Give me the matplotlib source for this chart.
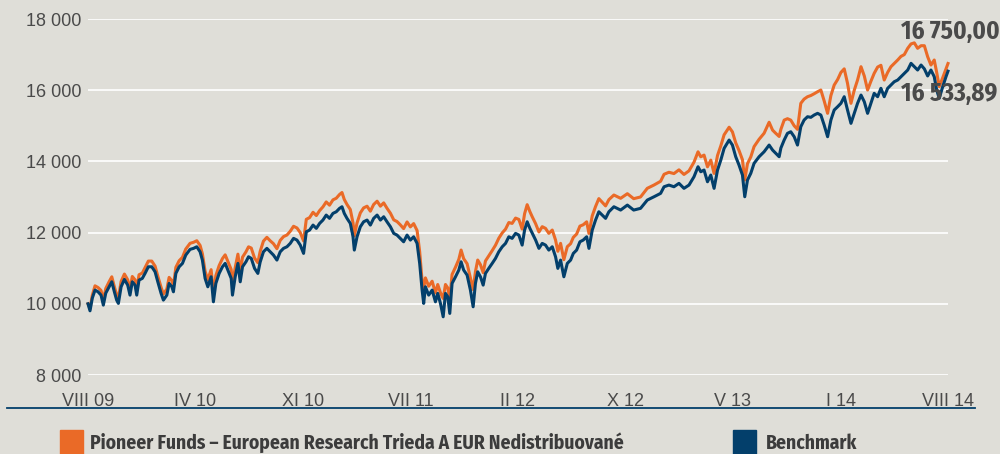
import matplotlib
matplotlib.use('Agg')
import matplotlib.pyplot as plt
from matplotlib.lines import Line2D
from matplotlib.patches import Rectangle

plt.rcParams['font.family'] = ['Liberation Sans', 'DejaVu Sans']
BOLD_FONT = ['Fira Sans Condensed', 'Liberation Sans', 'DejaVu Sans']

# months since VIII 09
months = [
    0, 0.14, 0.30, 0.49, 0.70, 0.91, 1.07, 1.24, 1.47, 1.66, 1.84, 2.00, 2.12, 2.31, 2.54,
    2.77, 2.93, 3.09, 3.28, 3.40, 3.56, 3.79, 3.98, 4.21, 4.45, 4.68, 4.87, 5.10, 5.26,
    5.50, 5.66, 5.85, 5.96, 6.13, 6.36, 6.59, 6.82, 7.12, 7.36, 7.59, 7.82, 7.98, 8.17,
    8.36, 8.59, 8.75, 8.92, 9.15, 9.38, 9.57, 9.76, 9.99, 10.08, 10.27, 10.46, 10.62,
    10.78, 11.02, 11.20, 11.39, 11.62, 11.85, 12.01, 12.24, 12.48, 12.71, 12.94, 13.18,
    13.41, 13.64, 13.88, 14.11, 14.34, 14.58, 14.81, 15.04, 15.23, 15.46, 15.70, 15.93,
    16.16, 16.39, 16.62, 16.85, 17.09, 17.32, 17.55, 17.72, 17.88, 18.07, 18.30, 18.49,
    18.58, 18.77, 19.00, 19.23, 19.47, 19.70, 19.93, 20.17, 20.40, 20.63, 20.86, 21.10,
    21.33, 21.56, 21.79, 22.02, 22.26, 22.49, 22.72, 22.96, 23.14, 23.31, 23.42, 23.54,
    23.77, 24.01, 24.24, 24.40, 24.59, 24.78, 24.94, 25.10, 25.24, 25.40, 25.64, 25.87,
    26.03, 26.21, 26.45, 26.68, 26.87, 27.03, 27.19, 27.38, 27.57, 27.73, 27.96, 28.20,
    28.43, 28.66, 28.90, 29.13, 29.36, 29.59, 29.83, 30.06, 30.29, 30.46, 30.64, 30.83,
    31.00, 31.23, 31.46, 31.69, 31.92, 32.15, 32.39, 32.62, 32.78, 32.97, 33.20, 33.44,
    33.67, 33.86, 34.09, 34.32, 34.55, 34.79, 34.95, 35.18, 35.41, 35.64, 35.88, 36.11,
    36.34, 36.69, 37.16, 37.63, 38.07, 38.55, 39.02, 39.49, 39.95, 40.19, 40.53, 40.88,
    41.23, 41.58, 41.93, 42.28, 42.56, 42.75, 42.98, 43.22, 43.45, 43.68, 43.92, 44.15,
    44.38, 44.73, 44.96, 45.19, 45.42, 45.66, 45.82, 46.01, 46.24, 46.47, 46.82, 47.17,
    47.52, 47.76, 47.99, 48.22, 48.34, 48.57, 48.80, 49.03, 49.27, 49.50, 49.73, 49.96,
    50.20, 50.43, 50.66, 50.90, 51.13, 51.36, 51.60, 51.83, 52.06, 52.30, 52.53, 52.76,
    52.99, 53.23, 53.46, 53.69, 53.93, 54.16, 54.39, 54.62, 54.85, 55.09, 55.32, 55.55,
    55.79, 56.02, 56.25, 56.49, 56.72, 56.95, 57.19, 57.42, 57.65, 57.88, 58.12, 58.35,
    58.58, 58.81, 59.04, 59.21, 59.39, 59.63, 59.86, 60.00,
]

benchmark = [
    10000, 9803, 10160, 10385, 10337, 10244, 9963, 10301, 10478, 10618, 10337, 10104, 10011, 10478, 10686,
    10525, 10244, 10618, 10525, 10244, 10666, 10714, 10854, 11040, 11040, 10899, 10618, 10292, 10104,
    10244, 10573, 10478, 10337, 10854, 11040, 11135, 11368, 11529, 11557, 11602, 11461, 11228, 10714,
    10478, 10759, 10056, 10573, 10854, 11040, 11135, 10947, 10714, 10244, 10759, 11135, 10618,
    11040, 11180, 11321, 11276, 10995, 10854, 11170, 11461, 11557, 11461, 11368, 11228,
    11461, 11557, 11602, 11697, 11838, 11790, 11649, 11416, 12023, 12071, 12211, 12119,
    12259, 12352, 12492, 12400, 12540, 12585, 12681, 12726, 12540, 12400, 12259, 11883,
    11509, 11883, 12164, 12304, 12352, 12211, 12400, 12492, 12352, 12445, 12304, 12164,
    11978, 11930, 11838, 11742, 11930, 11790, 11883, 11697, 11135, 10385, 10011, 10478,
    10244, 10385, 10056, 10292, 10011, 9635, 10292, 10197, 9730, 10573, 10759, 10947,
    11180, 10947, 10806, 10385, 9916, 10573, 10899, 10759, 10525, 10854, 10995, 11135,
    11276, 11461, 11602, 11697, 11883, 11838, 11978, 11930, 11649, 12071, 12304, 12119,
    11978, 11790, 11557, 11697, 11649, 11509, 11602, 11321, 10995, 11228, 10759, 11135,
    11228, 11416, 11509, 11742, 11790, 11883, 11557, 12071, 12352, 12585, 12492, 12400,
    12585, 12726, 12633, 12773, 12633, 12681, 12914, 13007, 13102, 13288, 13335, 13288,
    13383, 13243, 13335, 13569, 13850, 13709, 13757, 13428, 13616, 13243, 13757, 14038,
    14367, 14600, 14459, 14131, 13897, 13616, 13007, 13476, 13664, 13945, 14131, 14271,
    14459, 14319, 14226, 14131, 14375, 14600, 14788, 14833, 14693, 14459, 14974, 15162,
    15255, 15238, 15302, 15350, 15302, 15021, 14693, 15162, 15443, 15536, 15631, 15817,
    15443, 15069, 15350, 15631, 15864, 15676, 15350, 15631, 15912, 15817, 16053, 15817,
    16053, 16145, 16238, 16286, 16379, 16474, 16567, 16755, 16660, 16567, 16707, 16600,
    16400, 16567, 16379, 16005, 15772, 16098, 16379, 16534,
]

fund = [
    10000, 9863, 10240, 10505, 10457, 10374, 10103, 10431, 10618, 10758, 10477, 10254, 10161, 10628, 10836,
    10675, 10394, 10768, 10675, 10404, 10816, 10864, 11014, 11200, 11200, 11059, 10778, 10462, 10274,
    10414, 10743, 10648, 10507, 11024, 11210, 11305, 11538, 11699, 11727, 11772, 11641, 11408, 10914,
    10678, 10959, 10306, 10793, 11074, 11270, 11375, 11187, 10964, 10524, 11019, 11395, 10898,
    11310, 11460, 11601, 11566, 11285, 11154, 11470, 11761, 11867, 11771, 11688, 11548,
    11781, 11887, 11932, 12037, 12178, 12130, 11999, 11766, 12373, 12421, 12571, 12479,
    12619, 12722, 12862, 12770, 12920, 12965, 13071, 13126, 12930, 12790, 12649, 12273,
    11909, 12273, 12554, 12694, 12742, 12601, 12790, 12882, 12742, 12835, 12684, 12544,
    12358, 12310, 12218, 12112, 12300, 12160, 12253, 12057, 11465, 10635, 10450, 10728,
    10494, 10635, 10306, 10542, 10311, 10150, 10542, 10447, 10130, 10823, 11029, 11247,
    11510, 11267, 11126, 10725, 10400, 10903, 11229, 11099, 10875, 11204, 11345, 11495,
    11646, 11841, 11992, 12097, 12283, 12258, 12408, 12370, 12099, 12531, 12784, 12589,
    12438, 12250, 12017, 12167, 12119, 11979, 12072, 11791, 11475, 11698, 11239, 11605,
    11688, 11866, 11959, 12182, 12220, 12303, 11977, 12471, 12732, 12955, 12852, 12750,
    12925, 13056, 12963, 13093, 12953, 13001, 13244, 13337, 13442, 13638, 13695, 13658,
    13763, 13633, 13735, 13979, 14270, 14129, 14177, 13848, 14036, 13663, 14167, 14438,
    14747, 14960, 14829, 14521, 14307, 14046, 13477, 13936, 14124, 14415, 14621, 14791,
    15100, 14879, 14786, 14700, 14900, 15160, 15200, 15160, 15000, 14900, 15631, 15750,
    15817, 15850, 15900, 15957, 16005, 15700, 15350, 15850, 16145, 16300, 16500, 16600,
    16193, 15631, 16000, 16286, 16660, 16400, 16005, 16250, 16474, 16650, 16700, 16286,
    16500, 16660, 16750, 16848, 16950, 17000, 17177, 17300, 17330, 17177, 17250, 17250,
    16941, 16707, 16848, 16500, 16100, 16350, 16600, 16750,
]

tick_pos = [0, 7.5, 15, 22.5, 30, 37.5, 45, 52.5, 60]
tick_labels = ['VIII 09', 'IV 10', 'XI 10', 'VII 11', 'II 12', 'X 12', 'V 13', 'I 14', 'VIII 14']
y_ticks = [8000, 10000, 12000, 14000, 16000, 18000]
end_labels = ['16 750,00', '16 533,89']
series_names = ['Pioneer Funds – European Research Trieda A EUR Nedistribuované', 'Benchmark']

BG = '#dfded8'
ORANGE = '#ea6a27'
BLUE = '#033f6b'
TXT = '#4a4a4a'

fig = plt.figure(figsize=(10, 4.54), dpi=100, facecolor=BG)
ax = fig.add_axes([0.088, 1 - 375 / 454, 0.86, 356 / 454])
ax.set_facecolor(BG)

ax.plot(months, fund, color=ORANGE, lw=2.2, zorder=3, clip_on=False)
ax.plot(months, benchmark, color=BLUE, lw=2.2, zorder=4, clip_on=False)

ax.set_xlim(0, 60)
ax.set_ylim(8000, 18000)
ax.set_yticks(y_ticks)
ax.set_yticklabels(['{:,}'.format(v).replace(',', ' ') for v in y_ticks])
ax.set_xticks(tick_pos)
ax.set_xticklabels(tick_labels)
ax.grid(axis='y', color='white', lw=1.2, zorder=1)
ax.grid(axis='x', visible=False)
for s in ax.spines.values():
    s.set_visible(False)
ax.tick_params(axis='both', length=0, labelsize=13, colors=TXT)
ax.tick_params(axis='y', pad=5)
ax.tick_params(axis='x', pad=13)

# end values
ax.text(56.7, 17640, end_labels[0], ha='left', va='center', fontsize=18,
        fontweight='bold', color=TXT, family=BOLD_FONT, zorder=5, clip_on=False)
ax.text(56.7, 15890, end_labels[1], ha='left', va='center', fontsize=18,
        fontweight='bold', color=TXT, family=BOLD_FONT, zorder=5, clip_on=False)

# separator line under the axis labels
fig.add_artist(Line2D([0.007, 0.975], [1 - 408 / 454] * 2, color=BLUE, lw=1.3))

# legend
fig.add_artist(Rectangle((0.060, 0.0), 0.023, (454 - 430) / 454, color=ORANGE))
fig.text(0.090, 0.012, series_names[0], fontsize=14, fontweight='bold',
         color='#3c3c3c', family=BOLD_FONT)
fig.add_artist(Rectangle((0.733, 0.0), 0.023, (454 - 430) / 454, color=BLUE))
fig.text(0.766, 0.012, series_names[1], fontsize=14, fontweight='bold',
         color='#3c3c3c', family=BOLD_FONT)

fig.savefig('out.png', dpi=100, facecolor=BG)
